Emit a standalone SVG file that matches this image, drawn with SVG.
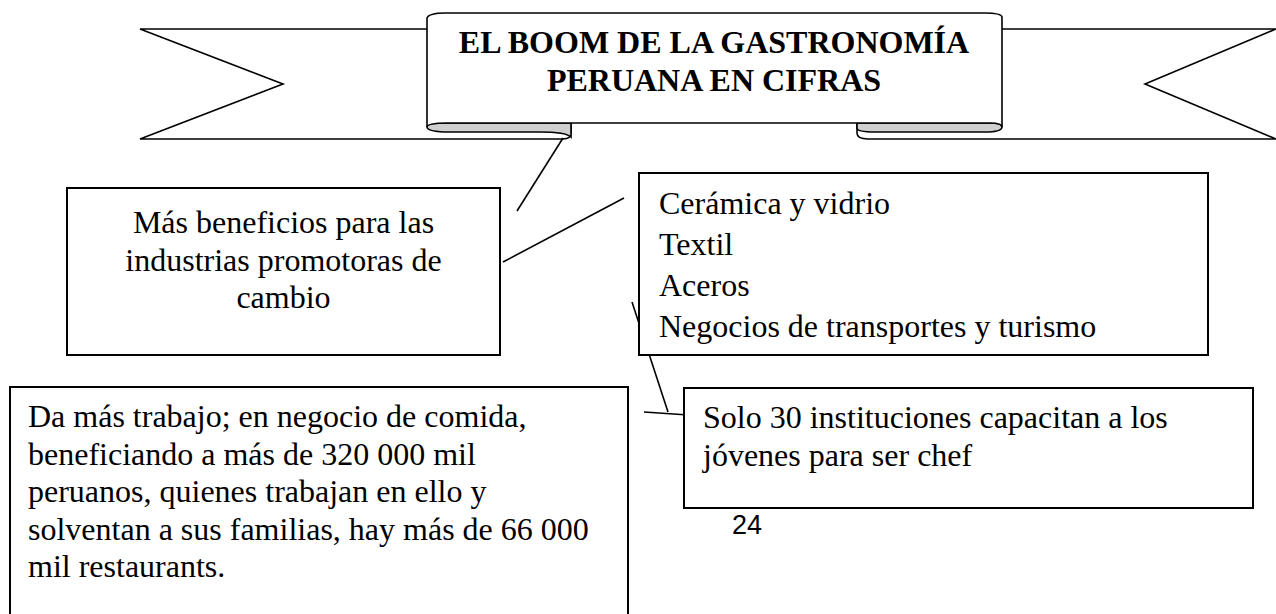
<svg xmlns="http://www.w3.org/2000/svg" width="1276" height="614" viewBox="0 0 1276 614">
<style>
.ln{fill:none;stroke:#000;stroke-width:1.6}
.rb{fill:#fff;stroke:#000;stroke-width:1.6;stroke-linejoin:miter}
.fold{fill:#d0d0d0;stroke:#000;stroke-width:1.6}
.box{fill:#fff;stroke:#000;stroke-width:2}
.t{font-family:"Liberation Serif","Times New Roman",serif;font-size:32px;fill:#000}
.tb{font-family:"Liberation Serif","Times New Roman",serif;font-size:32px;font-weight:bold;fill:#000}
.pg{font-family:"Liberation Sans",Arial,sans-serif;font-size:27px;fill:#000}
</style>
<g id="banner">
  <path class="rb" d="M140,29 L571,29 L571,133 Q571,139 563,139 L140,139 L283,84 Z"/>
  <path class="rb" d="M857,29 L1276,29 L1145,84 L1276,139 L868,139 Q857,139 857,133 Z"/>
  <path class="fold" d="M427,127 Q427,123 447,123 L571,123 L571,137 Q566,132 540,132 L450,132 Q427,132 427,127 Z"/>
  <path class="fold" d="M857,123 L990,123 Q1002,123 1002,127 Q1002,132 985,132 L875,132 Q857,132 857,128 Z"/>
  <path class="rb" d="M427,127 L427,18 Q429,13 445,13 L985,13 Q1001,13 1002,17 L1002,127 Q1002,123 990,123 L447,123 Q427,123 427,127 Z"/>
  <text class="tb" x="714" y="53" text-anchor="middle">EL BOOM DE LA GASTRONOMÍA</text>
  <text class="tb" x="714" y="91" text-anchor="middle">PERUANA EN CIFRAS</text>
</g>
<g id="connectors">
  <line class="ln" x1="563" y1="138" x2="517" y2="211"/>
  <line class="ln" x1="624" y1="198" x2="503" y2="262"/>
  <line class="ln" x1="632" y1="302" x2="668" y2="412"/>
  <line class="ln" x1="644" y1="412" x2="703" y2="416"/>
</g>
<g id="node-beneficios">
  <rect class="box" x="67" y="188" width="433" height="167"/>
  <text class="t" x="283.5" y="233" text-anchor="middle">Más beneficios para las</text>
  <text class="t" x="283.5" y="270.5" text-anchor="middle">industrias promotoras de</text>
  <text class="t" x="283.5" y="308" text-anchor="middle">cambio</text>
</g>
<g id="node-industrias">
  <rect class="box" x="639" y="173" width="569" height="182"/>
  <text class="t" x="659" y="214">Cerámica y vidrio</text>
  <text class="t" x="659" y="255">Textil</text>
  <text class="t" x="659" y="296">Aceros</text>
  <text class="t" x="659" y="337">Negocios de transportes y turismo</text>
</g>
<g id="node-trabajo">
  <rect class="box" x="10" y="387" width="618" height="240"/>
  <text class="t" x="28" y="427">Da más trabajo; en negocio de comida,</text>
  <text class="t" x="28" y="464.5">beneficiando a más de 320 000 mil</text>
  <text class="t" x="28" y="502">peruanos, quienes trabajan en ello y</text>
  <text class="t" x="28" y="539.5">solventan a sus familias, hay más de 66 000</text>
  <text class="t" x="28" y="577">mil restaurants.</text>
</g>
<g id="node-chef">
  <rect class="box" x="684" y="388" width="569" height="120"/>
  <text class="t" x="703" y="428">Solo 30 instituciones capacitan a los</text>
  <text class="t" x="703" y="466">jóvenes para ser chef</text>
</g>
<text class="pg" x="732" y="534">24</text>
</svg>
